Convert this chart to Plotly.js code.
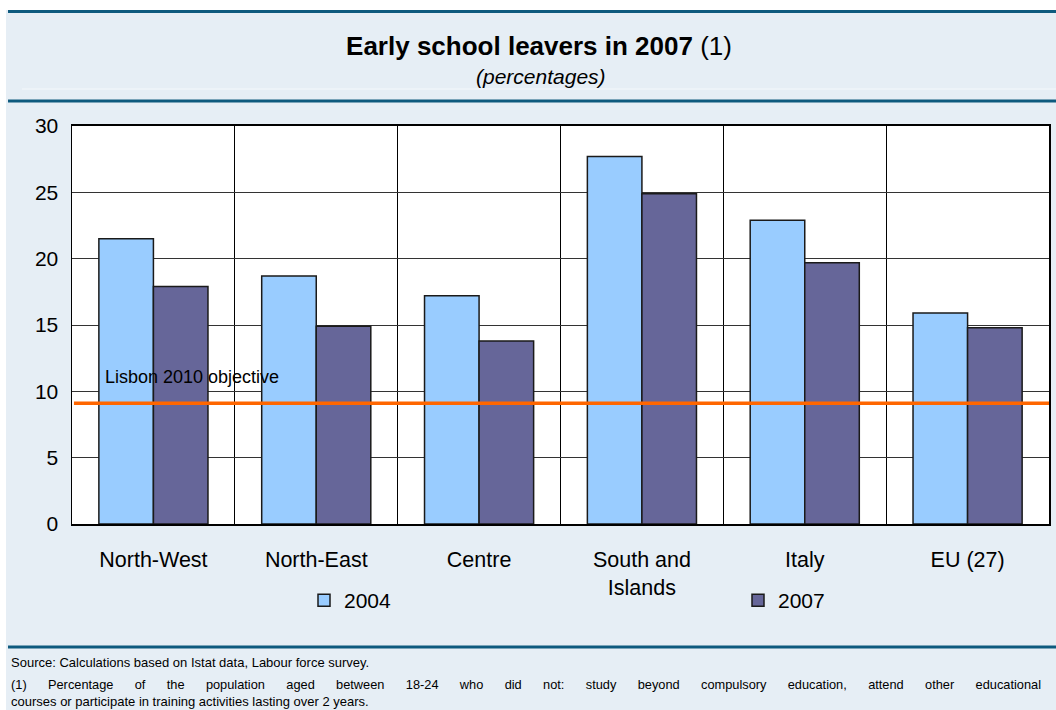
<!DOCTYPE html>
<html>
<head>
<meta charset="utf-8">
<script src="https://cdn.plot.ly/plotly-3.0.1.min.js"></script>
<style>html,body{margin:0;padding:0;background:#fff;}#chart{width:1056px;height:710px;}</style>
</head>
<body>
<div id="chart"></div>
<script>
// ---- data ----
const categories = ['North-West', 'North-East', 'Centre', 'South and<br>Islands', 'Italy', 'EU (27)'];
const seriesNames = ['2004', '2007'];
const values2004 = [21.5, 18.7, 17.2, 27.7, 22.9, 15.9];
const values2007 = [17.9, 14.9, 13.8, 24.9, 19.7, 14.8];
const lisbonObjective = 9.1;
const yTicks = [0, 5, 10, 15, 20, 25, 30];

// ---- layout helpers (pixel -> paper coords) ----
const W = 1056, H = 710;
const M = {l: 72, r: 7, t: 126, b: 186};
const PW = W - M.l - M.r, PH = H - M.t - M.b;
const px = x => (x - M.l) / PW;
const py = y => (H - M.b - y) / PH;

const FONT = 'Liberation Sans, Arial, sans-serif';
const BG = '#E6EEF5';
const RULE = '#0E5A7E';

const traces = [
  {type: 'bar', name: seriesNames[0], x: categories, y: values2004, legend: 'legend',
   marker: {color: '#99CCFF', line: {color: '#1a1a1a', width: 1.5}}},
  {type: 'bar', name: seriesNames[1], x: categories, y: values2007, legend: 'legend2',
   marker: {color: '#666699', line: {color: '#1a1a1a', width: 1.5}}}
];

const nb = '&nbsp;';
const gap = ' ' + nb + nb + nb + nb + nb;
const line2Words = ['(1)', 'Percentage', 'of', 'the', 'population', 'aged', 'between', '18-24', 'who', 'did', 'not:', 'study', 'beyond', 'compulsory', 'education,', 'attend', 'other', 'educational'];

const shapes = [
  // white strips at left and top of the page
  {type: 'rect', xref: 'paper', yref: 'paper', x0: px(0), x1: px(6), y0: py(H + 5), y1: py(-5), fillcolor: '#fff', line: {width: 0}, layer: 'below'},
  {type: 'rect', xref: 'paper', yref: 'paper', x0: px(0), x1: px(W + 5), y0: py(10), y1: py(-5), fillcolor: '#fff', line: {width: 0}, layer: 'below'},
  // rules
  {type: 'line', xref: 'paper', yref: 'paper', x0: px(8), x1: px(W + 5), y0: py(11.5), y1: py(11.5), line: {color: RULE, width: 3}},
  {type: 'line', xref: 'paper', yref: 'paper', x0: px(22), x1: px(W + 5), y0: py(89), y1: py(89), line: {color: '#F4F8FB', width: 1}},
  {type: 'line', xref: 'paper', yref: 'paper', x0: px(8), x1: px(W + 5), y0: py(101), y1: py(101), line: {color: RULE, width: 3}},
  {type: 'line', xref: 'paper', yref: 'paper', x0: px(8), x1: px(W + 5), y0: py(647), y1: py(647), line: {color: RULE, width: 3}},
  // Lisbon objective line
  {type: 'line', xref: 'paper', yref: 'y', x0: 0.002, x1: 1, y0: lisbonObjective, y1: lisbonObjective, line: {color: '#FF6600', width: 3.5}, layer: 'above'}
];

const annotations = [
  {text: '<i>(percentages)</i>', xref: 'paper', yref: 'paper', x: px(541), y: py(77), showarrow: false, xanchor: 'center', yanchor: 'middle', font: {family: FONT, size: 21, color: '#000'}},
  {text: 'Lisbon 2010 objective', xref: 'paper', yref: 'paper', x: px(103), y: py(377), showarrow: false, xanchor: 'left', yanchor: 'middle', font: {family: FONT, size: 18, color: '#000'}},
  {text: 'Source: Calculations based on Istat data, Labour force survey.', xref: 'paper', yref: 'paper', x: px(9), y: py(662), showarrow: false, xanchor: 'left', yanchor: 'middle', font: {family: FONT, size: 13, color: '#000'}},
  {text: line2Words.join(gap), xref: 'paper', yref: 'paper', x: px(9), y: py(684), showarrow: false, xanchor: 'left', yanchor: 'middle', font: {family: FONT, size: 12.8, color: '#000'}},
  {text: 'courses or participate in training activities lasting over 2 years.', xref: 'paper', yref: 'paper', x: px(9), y: py(701), showarrow: false, xanchor: 'left', yanchor: 'middle', font: {family: FONT, size: 13, color: '#000'}}
];

const legendBase = {orientation: 'h', xanchor: 'left', yanchor: 'top', bgcolor: 'rgba(0,0,0,0)', font: {family: FONT, size: 21, color: '#000'}};

const layout = {
  width: W, height: H,
  margin: M,
  paper_bgcolor: BG,
  plot_bgcolor: '#fff',
  font: {family: FONT, color: '#000'},
  title: {text: '<b>Early school leavers in 2007</b> (1)', xref: 'container', yref: 'container', x: 539 / W, y: 1 - 46 / H, xanchor: 'center', yanchor: 'middle', font: {family: FONT, size: 26, color: '#000'}},
  barmode: 'group',
  bargap: 0.33,
  bargroupgap: 0,
  showlegend: true,
  legend: Object.assign({}, legendBase, {x: px(304), y: py(580)}),
  legend2: Object.assign({}, legendBase, {x: px(738), y: py(580)}),
  xaxis: {type: 'category', tickson: 'boundaries', showgrid: true, gridcolor: '#000', gridwidth: 1, ticks: '', showline: true, mirror: true, linecolor: '#000', linewidth: 2, tickfont: {family: FONT, size: 21.5, color: '#000'}, ticklabelstandoff: 15, fixedrange: true},
  yaxis: {range: [0, 30], tickvals: yTicks, ticktext: yTicks.map(String), showgrid: true, gridcolor: '#333', gridwidth: 1, zeroline: false, ticks: '', showline: true, mirror: true, linecolor: '#000', linewidth: 1.5, tickfont: {family: FONT, size: 21, color: '#000'}, ticklabelstandoff: 8, fixedrange: true},
  shapes: shapes,
  annotations: annotations
};

Plotly.newPlot('chart', traces, layout, {displayModeBar: false, staticPlot: true});
</script>
</body>
</html>
